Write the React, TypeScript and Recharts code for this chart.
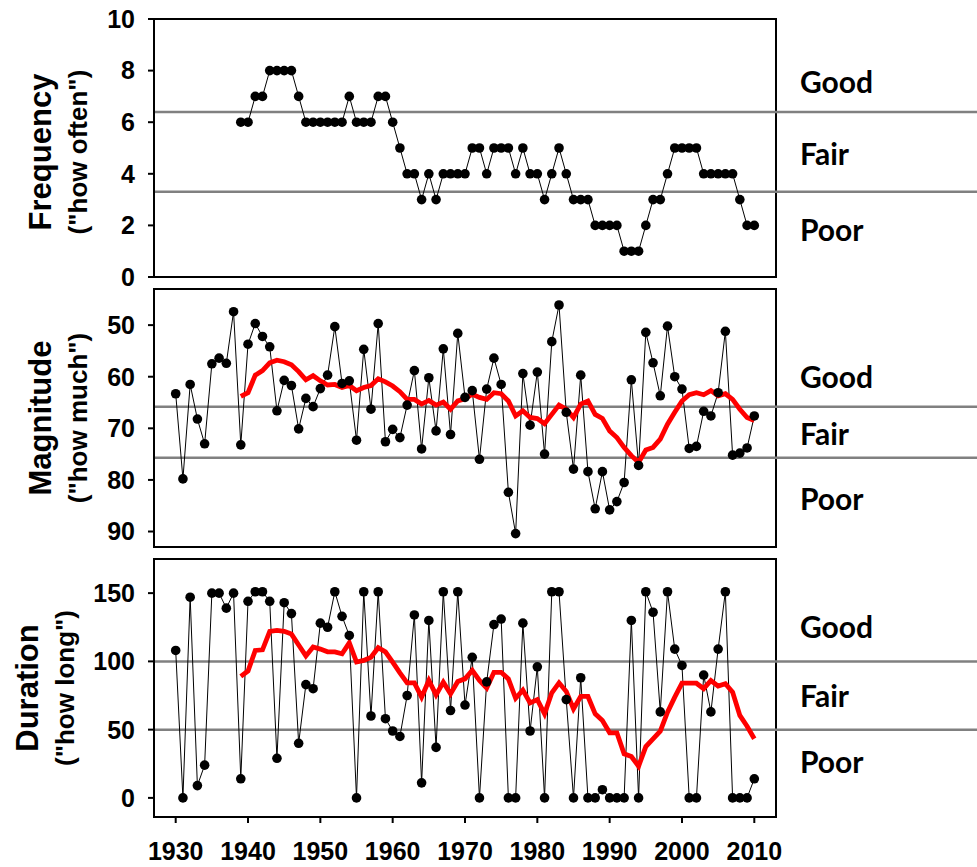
import { LineChart, Line, XAxis, YAxis, ReferenceLine, ReferenceArea } from "recharts"

// years on the x axis
const YEARS = [
  1930, 1931, 1932, 1933, 1934, 1935, 1936, 1937, 1938, 1939,
  1940, 1941, 1942, 1943, 1944, 1945, 1946, 1947, 1948, 1949,
  1950, 1951, 1952, 1953, 1954, 1955, 1956, 1957, 1958, 1959,
  1960, 1961, 1962, 1963, 1964, 1965, 1966, 1967, 1968, 1969,
  1970, 1971, 1972, 1973, 1974, 1975, 1976, 1977, 1978, 1979,
  1980, 1981, 1982, 1983, 1984, 1985, 1986, 1987, 1988, 1989,
  1990, 1991, 1992, 1993, 1994, 1995, 1996, 1997, 1998, 1999,
  2000, 2001, 2002, 2003, 2004, 2005, 2006, 2007, 2008, 2009,
  2010,
]

// frequency and the two running means start in 1939
const LATE_START = 1939

const FREQUENCY = [
  6, 6, 7, 7, 8, 8, 8, 8, 7, 6, 6, 6, 6, 6, 6, 7, 6, 6, 6, 7, 7, 6,
  5, 4, 4, 3, 4, 3, 4, 4, 4, 4, 5, 5, 4, 5, 5, 5, 4, 5, 4, 4, 3, 4,
  5, 4, 3, 3, 3, 2, 2, 2, 2, 1, 1, 1, 2, 3, 3, 4, 5, 5, 5, 5, 4, 4,
  4, 4, 4, 3, 2, 2,
]

const MAGNITUDE = [
  63.3, 79.8, 61.5, 68.2, 73.0, 57.5, 56.4, 57.4, 47.4, 73.2,
  53.7, 49.7, 52.2, 54.2, 66.6, 60.7, 61.7, 70.1, 64.2, 65.8,
  62.3, 59.7, 50.3, 61.3, 60.8, 72.3, 54.7, 66.3, 49.7, 72.6,
  70.2, 71.8, 65.5, 58.8, 74.0, 60.2, 70.5, 54.6, 71.2, 51.6,
  64.0, 62.7, 76.0, 62.4, 56.4, 61.5, 82.4, 90.4, 59.4, 69.4,
  59.1, 75.0, 53.2, 46.1, 66.9, 77.9, 59.7, 78.4, 85.6, 78.4,
  85.8, 84.2, 80.5, 60.6, 77.2, 51.4, 57.3, 63.7, 50.2, 60.0,
  62.4, 73.9, 73.5, 66.7, 67.6, 63.1, 51.2, 75.2, 74.8, 73.8,
  67.6,
]

const MAGNITUDE_MEAN = [
  63.8, 63.1, 59.7, 58.8, 57.3, 56.8, 57.1, 57.7, 59.0, 60.6, 59.8,
  60.8, 61.6, 61.5, 62.1, 61.7, 62.7, 62.1, 61.7, 60.4, 61.0, 61.8,
  62.9, 64.4, 64.4, 65.3, 64.6, 65.5, 64.9, 66.3, 64.7, 64.3, 63.4,
  64.0, 64.4, 63.1, 63.3, 64.7, 67.6, 66.6, 67.9, 68.1, 69.1, 67.3,
  65.5, 66.3, 67.9, 65.3, 64.7, 67.3, 68.1, 70.5, 71.8, 73.7, 75.3,
  76.6, 74.2, 73.7, 72.1, 69.2, 66.9, 64.7, 63.5, 63.1, 63.5, 62.7,
  63.7, 63.3, 64.4, 66.3, 67.9, 68.5,
]

const DURATION = [
  108, 0, 147, 9, 24, 150, 150, 139, 150, 14,
  144, 151, 151, 144, 29, 143, 135, 40, 83, 80,
  128, 125, 151, 133, 119, 0, 151, 60, 151, 58,
  49, 45, 75, 134, 11, 130, 37, 151, 64, 151,
  68, 103, 0, 85, 127, 131, 0, 0, 128, 49,
  96, 0, 151, 151, 72, 0, 88, 0, 0, 6,
  0, 0, 0, 130, 0, 151, 136, 63, 151, 109,
  97, 0, 0, 90, 63, 109, 151, 0, 0, 0,
  14,
]

const DURATION_MEAN = [
  89, 93, 108, 108.5, 122, 122.7, 122, 120, 112, 104, 110.5,
  109, 107, 107, 105.6, 113.6, 99.5, 100.7, 103, 110, 107, 99.5,
  91.6, 84.3, 84.3, 73.8, 86, 75.5, 84.8, 76.2, 85.3, 87.2, 93.4,
  86, 80.4, 92, 92, 87.2, 73, 79, 69.6, 72, 61.6, 77, 84.3,
  78, 65.2, 74.3, 74.3, 61.6, 56.7, 47.7, 47.7, 32.3, 30.3, 23.2,
  37.6, 43.3, 48.9, 62.8, 73.8, 84, 84, 84, 80, 86, 81.9,
  83.6, 77.5, 60.4, 52.5, 43.3,
]

const X_TICKS = [1930, 1940, 1950, 1960, 1970, 1980, 1990, 2000, 2010]
const FREQ_TICKS = [0, 2, 4, 6, 8, 10]
const MAG_TICKS = [50, 60, 70, 80, 90]
const DUR_TICKS = [0, 50, 100, 150]

// Good / Fair / Poor class limits
const FREQ_LIMITS = [6.4, 3.3]
const MAG_LIMITS = [65.8, 75.7]
const DUR_LIMITS = [100, 50]
const CLASSES = ["Good", "Fair", "Poor"]

const rows = YEARS.map((year, i) => {
  const j = year - LATE_START
  return {
    year,
    freq: j >= 0 ? FREQUENCY[j] : null,
    mag: MAGNITUDE[i],
    magMean: j >= 0 ? MAGNITUDE_MEAN[j] : null,
    dur: DURATION[i],
    durMean: j >= 0 ? DURATION_MEAN[j] : null,
  }
})

const W = 977
const X_DOMAIN = [1927, 2013]
const ARIAL = '"Liberation Sans", Arial, sans-serif'
const tickStyle = { fontFamily: ARIAL, fontSize: 25, fontWeight: 700, fill: "#000" }
const axisStroke = { stroke: "#000", strokeWidth: 2 }

const limitShape = (p: any) => (
  <line x1={p.x1} y1={p.y1} x2={W} y2={p.y2} stroke="#808080" strokeWidth={2.5} />
)

type PanelProps = {
  top: number
  height: number
  marginTop: number
  marginBottom: number
  xHeight: number
  xLabels: boolean
  dataKey: string
  meanKey?: string
  domain: number[]
  ticks: number[]
  reversed?: boolean
  limits: number[]
}

function Panel(p: PanelProps) {
  return (
    <div style={{ position: "absolute", left: 0, top: p.top }}>
      <LineChart
        width={W}
        height={p.height}
        data={rows}
        margin={{ top: p.marginTop, right: 201, bottom: p.marginBottom, left: 0 }}
      >
        <XAxis
          dataKey="year"
          type="number"
          domain={X_DOMAIN}
          ticks={X_TICKS}
          interval={0}
          height={p.xHeight}
          tick={p.xLabels ? tickStyle : false}
          tickMargin={19}
          axisLine={axisStroke}
          tickLine={axisStroke}
        />
        <YAxis
          type="number"
          domain={p.domain}
          ticks={p.ticks}
          interval={0}
          reversed={p.reversed}
          width={154}
          tick={tickStyle}
          tickMargin={13}
          axisLine={axisStroke}
          tickLine={axisStroke}
        />
        <ReferenceArea
          x1={X_DOMAIN[0]}
          x2={X_DOMAIN[1]}
          y1={p.domain[0]}
          y2={p.domain[1]}
          fill="none"
          fillOpacity={0}
          stroke="#000"
          strokeWidth={2}
          ifOverflow="visible"
        />
        {p.limits.map((v) => (
          <ReferenceLine key={v} y={v} shape={limitShape} />
        ))}
        <Line
          dataKey={p.dataKey}
          stroke="#000"
          strokeWidth={1}
          dot={{ r: 4.8, fill: "#000", stroke: "#000", strokeWidth: 0 }}
          activeDot={false}
          isAnimationActive={false}
        />
        {p.meanKey && (
          <Line
            dataKey={p.meanKey}
            stroke="#ff0000"
            strokeWidth={4.8}
            dot={false}
            activeDot={false}
            isAnimationActive={false}
          />
        )}
      </LineChart>
    </div>
  )
}

// rotated axis titles and class labels
const TITLES = [
  { title: "Frequency", sub: '("how often")', cy: 152, tx: 51, sx: 87 },
  { title: "Magnitude", sub: '("how much")', cy: 418, tx: 51, sx: 87 },
  { title: "Duration", sub: '("how long")', cy: 688, tx: 38, sx: 74 },
]
const CLASS_Y = [
  [93, 165, 241],
  [388, 445, 510],
  [638, 707, 773],
]

export default function App() {
  return (
    <div style={{ position: "absolute", left: 0, top: 0, width: W, height: 867, background: "#fff" }}>
      <Panel top={0} height={297} marginTop={19} marginBottom={12} xHeight={8} xLabels={false}
        dataKey="freq" domain={[0, 10]} ticks={FREQ_TICKS} limits={FREQ_LIMITS} />
      <Panel top={285} height={270} marginTop={4} marginBottom={0} xHeight={8} xLabels={false}
        dataKey="mag" meanKey="magMean" domain={[43, 93]} ticks={MAG_TICKS} reversed limits={MAG_LIMITS} />
      <Panel top={555} height={312} marginTop={4} marginBottom={0} xHeight={50} xLabels
        dataKey="dur" meanKey="durMean" domain={[-14, 175]} ticks={DUR_TICKS} limits={DUR_LIMITS} />
      <svg width={W} height={867} style={{ position: "absolute", left: 0, top: 0, pointerEvents: "none" }}>
        {TITLES.map((t) => (
          <g key={t.title} fontFamily={ARIAL} fontWeight={700} fill="#000" textAnchor="middle">
            <text x={t.tx} y={t.cy} fontSize={31} transform={`rotate(-90 ${t.tx} ${t.cy})`}>
              {t.title}
            </text>
            <text x={t.sx} y={t.cy} fontSize={26} transform={`rotate(-90 ${t.sx} ${t.cy})`}>
              {t.sub}
            </text>
          </g>
        ))}
        {CLASS_Y.map((ys, k) =>
          ys.map((y, i) => (
            <text key={`${k}-${i}`} x={800} y={y} fontFamily="Lato, 'Open Sans', sans-serif"
              fontWeight={700} fontSize={30} fill="#000">
              {CLASSES[i]}
            </text>
          ))
        )}
      </svg>
    </div>
  )
}
